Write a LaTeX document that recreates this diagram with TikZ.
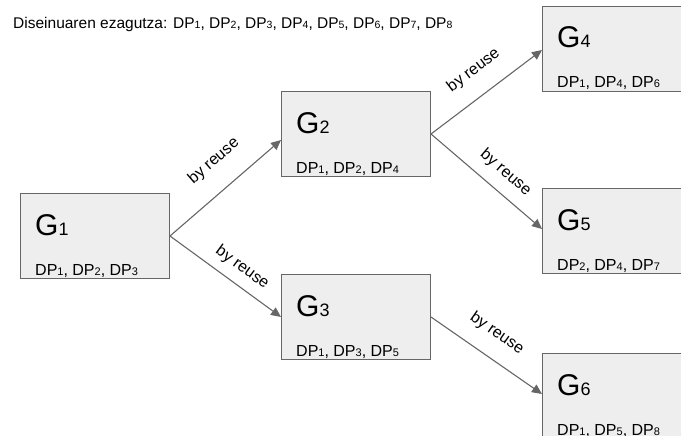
\documentclass[tikz,border=0pt]{standalone}
\usepackage{fontspec}
\setmainfont{Liberation Sans}
\usetikzlibrary{arrows.meta}
\definecolor{boxfill}{HTML}{EEEEEE}
\definecolor{edgegray}{HTML}{666666}
\newcommand\hdp[1]{DP{\fontsize{10.5pt}{12pt}\selectfont #1}}
\newcommand\bdp[1]{DP{\fontsize{11pt}{12pt}\selectfont #1}}
\newcommand\gname[1]{G{\fontsize{18pt}{20pt}\selectfont #1}}
\begin{document}
\begin{tikzpicture}[x=1pt,y=-1pt,
  gbox/.style={draw=edgegray, line width=1pt, fill=boxfill, minimum width=149pt, minimum height=85pt, anchor=north west, inner sep=0pt},
  gtitle/.style={anchor=base west, inner sep=0pt, font=\fontsize{30pt}{32pt}\selectfont},
  dpline/.style={anchor=base west, inner sep=0pt, font=\fontsize{16pt}{18pt}\selectfont},
  arr/.style={draw=edgegray, line width=1.1pt, -{Triangle[length=10pt,width=9pt]}},
  reuse/.style={sloped, inner sep=0pt, font=\fontsize{16pt}{18pt}\selectfont}
]
\useasboundingbox (0,0) rectangle (681,436);
\clip (0,0) rectangle (681,436);

\node[anchor=base west, inner sep=0pt, font=\fontsize{15.5pt}{18pt}\selectfont] (hdr) at (13,29)
  {Diseinuaren ezagutza: \hdp{1}, \hdp{2}, \hdp{3}, \hdp{4}, \hdp{5}, \hdp{6}, \hdp{7}, \hdp{8}};

\node[gbox] (g1) at (20,193) {};
\node[gbox] (g2) at (281,91) {};
\node[gbox] (g3) at (281,274) {};
\node[gbox] (g4) at (542,6) {};
\node[gbox] (g5) at (542,188) {};
\node[gbox] (g6) at (542,353) {};

\node[gtitle] (t1) at ([shift={(15,42)}]g1.north west) {\gname{1}};
\node[gtitle] (t2) at ([shift={(15,42)}]g2.north west) {\gname{2}};
\node[gtitle] (t3) at ([shift={(15,42)}]g3.north west) {\gname{3}};
\node[gtitle] (t4) at ([shift={(15,42)}]g4.north west) {\gname{4}};
\node[gtitle] (t5) at ([shift={(15,42)}]g5.north west) {\gname{5}};
\node[gtitle] (t6) at ([shift={(15,42)}]g6.north west) {\gname{6}};

\node[dpline] (d1) at ([shift={(15,82)}]g1.north west) {\bdp{1}, \bdp{2}, \bdp{3}};
\node[dpline] (d2) at ([shift={(15,82)}]g2.north west) {\bdp{1}, \bdp{2}, \bdp{4}};
\node[dpline] (d3) at ([shift={(15,82)}]g3.north west) {\bdp{1}, \bdp{3}, \bdp{5}};
\node[dpline] (d4) at ([shift={(15,82)}]g4.north west) {\bdp{1}, \bdp{4}, \bdp{6}};
\node[dpline] (d5) at ([shift={(15,82)}]g5.north west) {\bdp{2}, \bdp{4}, \bdp{7}};
\node[dpline] (d6) at ([shift={(15,82)}]g6.north west) {\bdp{1}, \bdp{5}, \bdp{8}};

\draw[arr] (g1.east) -- ([yshift=-6pt]g2.west)
  node[reuse, pos=0.56, above=20pt] (l12) {by reuse};
\draw[arr] (g1.east) -- (g3.west)
  node[reuse, pos=0.56, above=9pt] (l13) {by reuse};
\draw[arr] (g2.east) -- ([yshift=-1pt]g4.west)
  node[reuse, pos=0.52, above=17pt] (l24) {by reuse};
\draw[arr] (g2.east) -- ([yshift=2pt]g5.west)
  node[reuse, pos=0.56, above=11pt] (l25) {by reuse};
\draw[arr] (g3.east) -- ([yshift=2pt]g6.west)
  node[reuse, pos=0.47, above=16pt] (l36) {by reuse};
\end{tikzpicture}
\end{document}
